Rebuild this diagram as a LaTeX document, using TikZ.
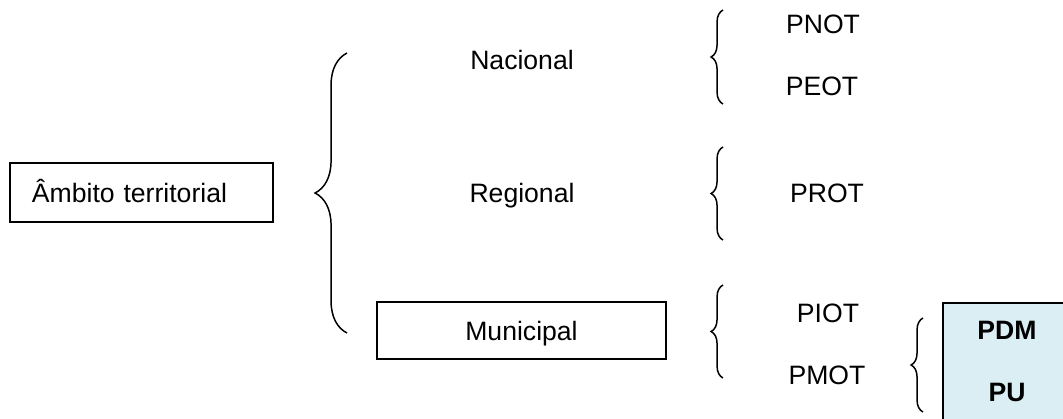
\documentclass[tikz,border=0pt]{standalone}
\usepackage{fontspec}
\setmainfont{Liberation Sans}
\usetikzlibrary{decorations.pathreplacing}
\definecolor{aqua}{HTML}{DAEEF3}
\begin{document}
\begin{tikzpicture}[x=0.47pt, y=-0.47pt, font=\fontsize{12.5}{15}\selectfont,
	lbl/.style={inner sep=0pt, text height=9pt, text depth=0pt},
	bx/.style={draw, line width=0.75pt, inner sep=0pt, text height=9pt, text depth=0pt},
	brc/.style={decorate, decoration={brace, amplitude=#1}, line width=0.7pt}]
	\useasboundingbox (0,0) rectangle (1063,418);
	\node[bx, minimum width=123.6pt, minimum height=27.7pt, text width=103pt, align=left] (ambito) at (141.5,192.5) {Âmbito territorial};
	\draw[brc=15pt] (347,333) -- (347,53);
	\node[lbl] (nacional) at (522,60) {Nacional};
	\node[lbl] (regional) at (522,193) {Regional};
	\node[bx, minimum width=135.8pt, minimum height=26.8pt] (municipal) at (521.5,330.5) {Municipal};
	\draw[brc=5.6pt] (723,104) -- (723,10);
	\draw[brc=5.6pt] (723,240) -- (723,147);
	\draw[brc=5.6pt] (723,378) -- (723,285);
	\node[lbl] (pnot) at (823,24) {PNOT};
	\node[lbl] (peot) at (822,86) {PEOT};
	\node[lbl] (prot) at (827,193) {PROT};
	\node[lbl] (piot) at (828,313) {PIOT};
	\node[lbl] (pmot) at (827,375) {PMOT};
	\draw[brc=5.6pt] (923,412) -- (923,318);
	\draw[fill=aqua, line width=0.75pt] (943,303) rectangle (1075,430);
	\node[lbl, font=\fontsize{12.5}{15}\selectfont\bfseries] (pdm) at (1007,330) {PDM};
	\node[lbl, font=\fontsize{12.5}{15}\selectfont\bfseries] (pu) at (1007,392) {PU};
\end{tikzpicture}
\end{document}
